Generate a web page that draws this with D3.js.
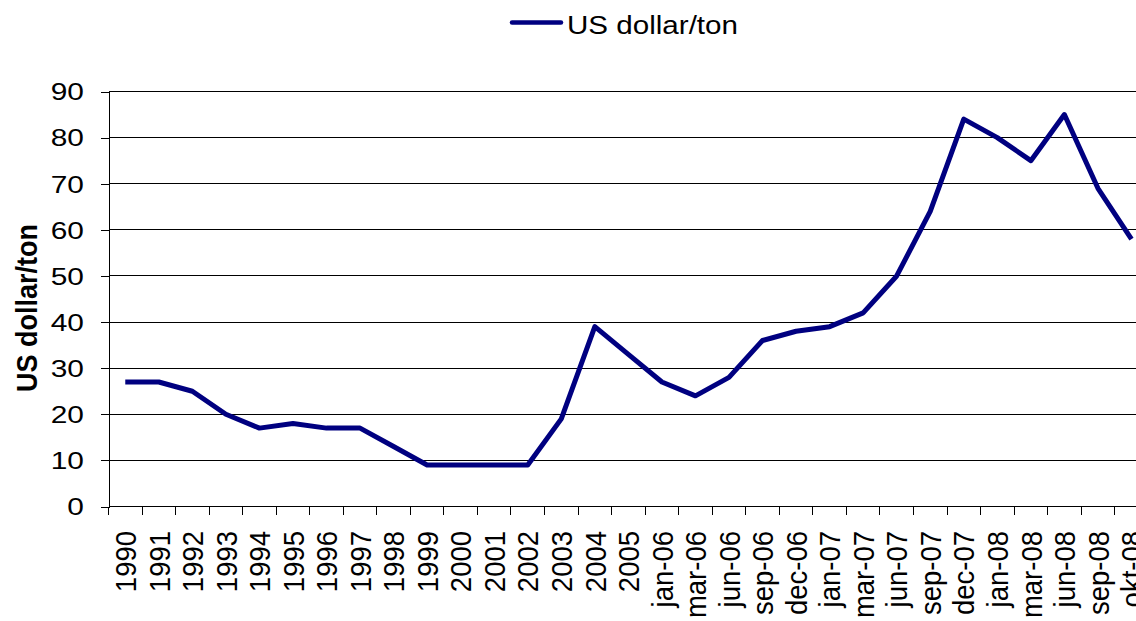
<!DOCTYPE html>
<html>
<head>
<meta charset="utf-8">
<script src="https://cdn.jsdelivr.net/npm/d3@7"></script>
<style>
  html, body { margin: 0; padding: 0; background: #fff; overflow: hidden; }
  svg text { font-family: "Liberation Sans", Arial, sans-serif; fill: #000; }
</style>
</head>
<body>
<div id="chart"></div>
<script>
// Price series
const categories = [
  "1990", "1991", "1992", "1993", "1994", "1995", "1996", "1997", "1998", "1999",
  "2000", "2001", "2002", "2003", "2004", "2005",
  "jan-06", "mar-06", "jun-06", "sep-06", "dec-06",
  "jan-07", "mar-07", "jun-07", "sep-07", "dec-07",
  "jan-08", "mar-08", "jun-08", "sep-08", "okt-08"
];
const values = [
  27, 27, 25, 20, 17, 18, 17, 17, 13, 9,
  9, 9, 9, 19, 39, 33,
  27, 24, 28, 36, 38,
  39, 42, 50, 64, 84,
  80, 75, 85, 69, 58
];
const yTicks = [0, 10, 20, 30, 40, 50, 60, 70, 80, 90];
const seriesName = "US dollar/ton";
const axisTitle = "US dollar/ton";

const width = 1136;
const height = 621;
// plot box; the right edge runs past the window like in the original picture
const plot = { left: 108.5, top: 91.5, bottom: 506.5, step: 33.54 };
plot.right = plot.left + plot.step * categories.length;

const svg = d3.select("#chart")
  .append("svg")
  .attr("width", width)
  .attr("height", height);

const x = d3.scaleBand()
  .domain(categories)
  .range([plot.left, plot.right]);

const y = d3.scaleLinear()
  .domain([0, 90])
  .range([plot.bottom, plot.top]);

// gridlines
svg.append("g")
  .selectAll("line")
  .data(yTicks.filter(d => d > 0))
  .join("line")
  .attr("x1", plot.left)
  .attr("x2", width)
  .attr("y1", d => y(d))
  .attr("y2", d => y(d))
  .attr("stroke", "#000")
  .attr("stroke-width", 1)
  .attr("shape-rendering", "crispEdges");

// y axis
const yAxis = svg.append("g")
  .attr("transform", `translate(${plot.left},0)`)
  .call(d3.axisLeft(y).tickValues(yTicks).tickSize(8).tickPadding(0));
yAxis.select(".domain").attr("stroke", "#000").attr("shape-rendering", "crispEdges");
yAxis.selectAll(".tick line").attr("stroke", "#000").attr("shape-rendering", "crispEdges");
yAxis.selectAll(".tick text").remove();

// y labels, slightly wide like the source picture
svg.append("g")
  .selectAll("text")
  .data(yTicks)
  .join("text")
  .attr("transform", d => `translate(84,${y(d)}) scale(1.22,1)`)
  .attr("text-anchor", "end")
  .attr("dy", "0.36em")
  .style("font-size", "24.5px")
  .text(d => d);

// x axis: ticks on category boundaries
const xAxisG = svg.append("g").attr("transform", `translate(0,${plot.bottom})`);
xAxisG.append("line")
  .attr("x1", plot.left)
  .attr("x2", width)
  .attr("stroke", "#000")
  .attr("shape-rendering", "crispEdges");
xAxisG.selectAll(".xtick")
  .data(categories)
  .join("line")
  .attr("class", "xtick")
  .attr("x1", d => x(d))
  .attr("x2", d => x(d))
  .attr("y1", 0)
  .attr("y2", 8)
  .attr("stroke", "#000")
  .attr("shape-rendering", "crispEdges");

// rotated category labels (the last one runs off the edge, as in the original)
svg.append("g")
  .selectAll("text")
  .data(categories)
  .join("text")
  .attr("transform", d => `translate(${x(d) + x.bandwidth() / 2},531) rotate(-90) scale(1,1.08)`)
  .attr("text-anchor", "end")
  .attr("dy", "0.36em")
  .style("font-size", "27.5px")
  .text(d => d);

// axis title
svg.append("text")
  .attr("transform", "translate(26,308) rotate(-90) scale(1,1.12)")
  .attr("text-anchor", "middle")
  .attr("dy", "0.36em")
  .style("font-size", "27px")
  .style("font-weight", "bold")
  .text(axisTitle);

// the series line
const line = d3.line()
  .x((d, i) => x(categories[i]) + x.bandwidth() / 2)
  .y(d => y(d));

svg.append("path")
  .datum(values)
  .attr("d", line)
  .attr("fill", "none")
  .attr("stroke", "#000080")
  .attr("stroke-width", 5)
  .attr("stroke-linejoin", "round");

// legend
const legend = svg.append("g");
legend.append("line")
  .attr("x1", 512)
  .attr("x2", 561)
  .attr("y1", 22.5)
  .attr("y2", 22.5)
  .attr("stroke", "#000080")
  .attr("stroke-width", 4.5)
  .attr("stroke-linecap", "round");
legend.append("text")
  .attr("transform", "translate(567,33.5) scale(1.16,1)")
  .style("font-size", "25.5px")
  .text(seriesName);
</script>
</body>
</html>
